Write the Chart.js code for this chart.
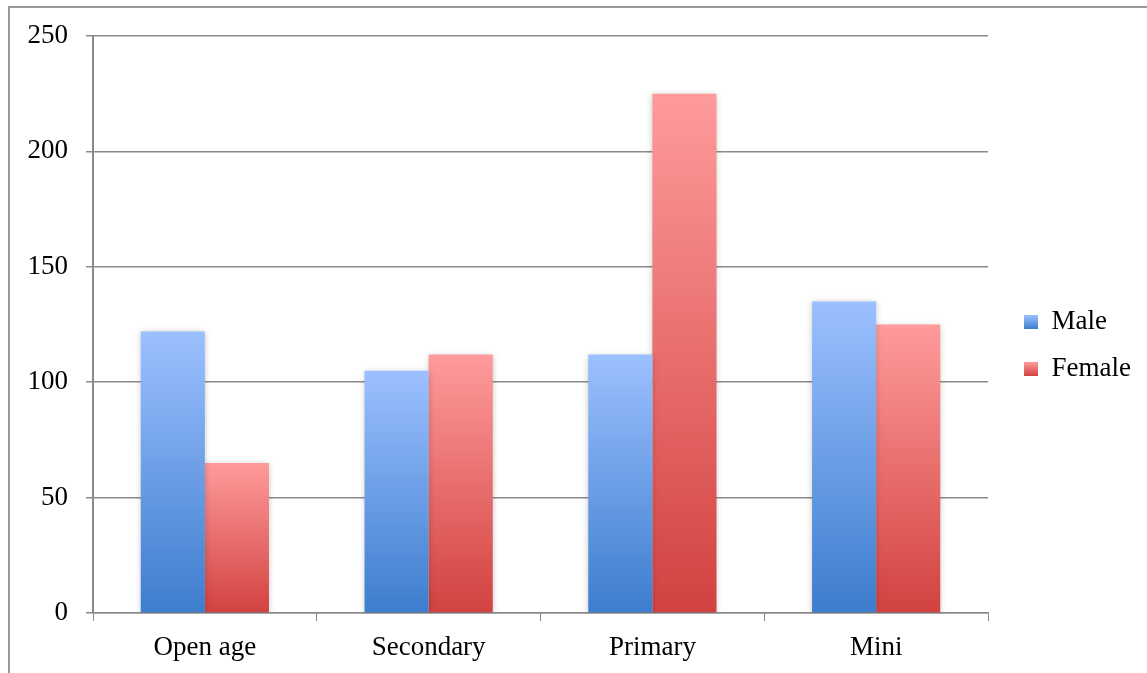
<!DOCTYPE html>
<html>
<head>
<meta charset="utf-8">
<script src="https://cdn.jsdelivr.net/npm/chart.js"></script>
<style>
  body { margin:0; background:#fff; }
  #wrap { position:relative; width:1147px; height:673px; }
  #frame { position:absolute; left:8px; top:6px; right:0; bottom:0; border-left:2px solid #9a9a9a; border-top:2px solid #9a9a9a; }
  #graph { position:absolute; left:0; top:0; }
</style>
</head>
<body>
<div id="wrap">
  <div id="frame"></div>
  <canvas id="graph" width="1147" height="673"></canvas>
</div>
<script>
const categories = ['Open age', 'Secondary', 'Primary', 'Mini'];
const maleValues = [122, 105, 112, 135];
const femaleValues = [65, 112, 225, 125];
const seriesNames = ['Male', 'Female'];

const maleTop = '#9cc0ff', maleBottom = '#3d7dcd';
const femaleTop = '#ff9b9b', femaleBottom = '#d14240';

// vertical gradient per bar, light at the top, dark at the base
function barFill(top, bottom) {
    return (c) => {
        const chart = c.chart;
        if (!chart.chartArea || c.type !== 'data') return bottom;
        const y = chart.scales.y;
        const g = chart.ctx.createLinearGradient(0, y.getPixelForValue(c.raw), 0, y.getPixelForValue(0));
        g.addColorStop(0, top);
        g.addColorStop(1, bottom);
        return g;
    };
}

const font = { family: '"Liberation Serif", serif', size: 27 };
Chart.defaults.color = '#000';

const shadowPlugin = {
    id: 'shadow',
    beforeDatasetsDraw(chart) {
        const ctx = chart.ctx;
        ctx.save();
        ctx.shadowColor = 'rgba(0,0,0,0.22)';
        ctx.shadowBlur = 6;
        ctx.shadowOffsetY = 1;
    },
    afterDatasetsDraw(chart) {
        chart.ctx.restore();
    }
};

// nudge the legend a bit right and up, like the original
const legendShift = {
    id: 'legendShift',
    afterLayout(chart) {
        const lg = chart.legend;
        lg.left += 16; lg.right += 16;
        lg.top -= 9; lg.bottom -= 9;
    }
};

const legendFill = {
    id: 'legendFill',
    beforeDraw(chart) {
        const lg = chart.legend;
        if (!lg || !lg.legendHitBoxes) return;
        const cols = [[maleTop, maleBottom], [femaleTop, femaleBottom]];
        lg.legendItems.forEach((it, i) => {
            const hb = lg.legendHitBoxes[i];
            if (!hb) return;
            const top = hb.top + (hb.height - 14) / 2;
            const g = chart.ctx.createLinearGradient(0, top, 0, top + 14);
            g.addColorStop(0, cols[i][0]);
            g.addColorStop(1, cols[i][1]);
            it.fillStyle = g;
        });
    }
};

let graph = document.querySelector('#graph').getContext('2d');
let myChart = new Chart(graph, {
    type: 'bar',
    data: {
        labels: categories,
        datasets: [
            { label: seriesNames[0], data: maleValues, backgroundColor: barFill(maleTop, maleBottom), borderWidth: 0 },
            { label: seriesNames[1], data: femaleValues, backgroundColor: barFill(femaleTop, femaleBottom), borderWidth: 0 }
        ]
    },
    options: {
        responsive: false,
        animation: false,
        layout: { padding: { top: 36, right: 22, left: 0, bottom: 0 } },
        datasets: { bar: { categoryPercentage: 0.573, barPercentage: 1 } },
        scales: {
            x: {
                grid: { drawOnChartArea: false, drawTicks: true, tickLength: 8, color: '#8a8a8a', offset: true },
                border: { color: '#8a8a8a', width: 1.5 },
                ticks: { font: font, padding: 11 },
                afterFit: (s) => { s.height = 60; }
            },
            y: {
                min: 0, max: 250,
                grid: { color: '#8a8a8a', lineWidth: 1.5, tickLength: 7 },
                border: { color: '#8a8a8a', width: 2 },
                ticks: { stepSize: 50, font: font, padding: 18 },
                afterFit: (s) => { s.width = 93; }
            }
        },
        plugins: {
            legend: {
                position: 'right',
                labels: { font: font, boxWidth: 14, boxHeight: 14, padding: 20 }
            },
            tooltip: { enabled: false }
        }
    },
    plugins: [shadowPlugin, legendShift, legendFill]
});
</script>
</body>
</html>
